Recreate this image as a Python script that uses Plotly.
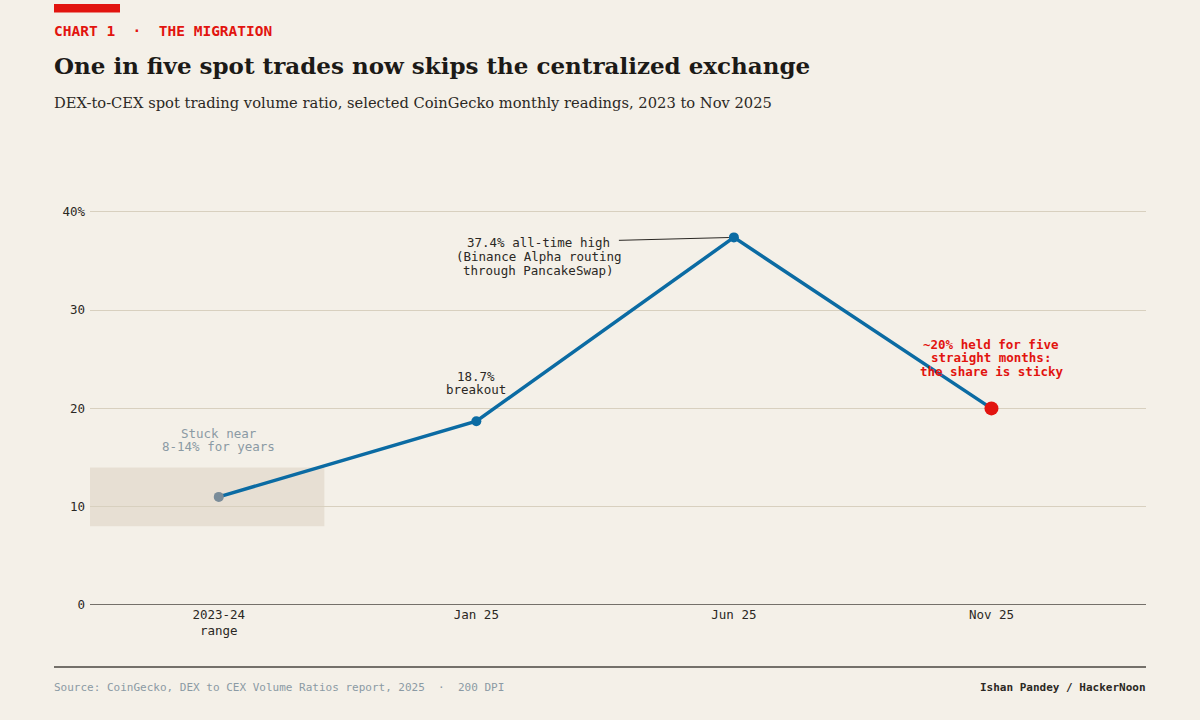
import plotly.graph_objects as go

categories = ["2023-24<br>range", "Jan 25", "Jun 25", "Nov 25"]
ratio_pct = [11.0, 18.7, 37.4, 20.0]
marker_colors = ["#7a8c99", "#0b6ba3", "#0b6ba3", "#e2140f"]
marker_sizes = [10, 10, 10, 14]
band_low, band_high = 8, 14
y_ticks = [0, 10, 20, 30, 40]
y_tick_labels = ["0", "10", "20", "30", "40%"]

BG = "#f4f0e8"
MONO = "DejaVu Sans Mono"
SERIF = "DejaVu Serif"
xs = list(range(len(categories)))

L, R, T, B = 90, 54, 202, 115
PW, PH = 1200 - L - R, 720 - T - B


def px_x(px):
    return (px - L) / PW


def px_y(py):
    return (720 - B - py) / PH


fig = go.Figure()
fig.add_shape(type="rect", xref="x", yref="y", x0=-0.5, x1=0.41, y0=band_low, y1=band_high,
              fillcolor="#e7dfd3", line_width=0, layer="below")
fig.add_trace(go.Scatter(x=xs, y=ratio_pct, mode="lines+markers",
                         line=dict(color="#0b6ba3", width=3.5),
                         marker=dict(color=marker_colors, size=marker_sizes, line_width=0, opacity=1),
                         opacity=1, cliponaxis=False, hoverinfo="skip"))

fig.update_layout(
    width=1200, height=720, paper_bgcolor=BG, plot_bgcolor=BG,
    margin=dict(l=L, r=R, t=T, b=B), showlegend=False,
    font=dict(family=MONO, color="#333333", size=12.5),
    xaxis=dict(range=[-0.5, 3.6], tickvals=xs, ticktext=categories, showgrid=False,
               zeroline=False, showline=False, ticks="", tickfont=dict(size=12.5, color="#2b2824")),
    yaxis=dict(range=[0, 41], tickvals=y_ticks, ticktext=y_tick_labels, showgrid=True,
               gridcolor="#d8d0bf", gridwidth=1, zeroline=False, showline=False, ticks="",
               ticklabelstandoff=4, tickfont=dict(size=12.5, color="#2b2824")),
)
# zero baseline
fig.add_shape(type="line", xref="paper", yref="y", x0=0, x1=1, y0=0, y1=0,
              line=dict(color="#4a4640", width=1.6))

# header
fig.add_shape(type="rect", xref="paper", yref="paper", x0=px_x(54), x1=px_x(120),
              y0=px_y(12.5), y1=px_y(4), fillcolor="#e2140f", line_width=0)


def header(text, py, size, family, color, x=54, anchor="left"):
    fig.add_annotation(xref="paper", yref="paper", x=px_x(x), y=px_y(py), xanchor=anchor,
                       yanchor="middle", text=text, showarrow=False, borderpad=0,
                       xshift=-1 if anchor == "left" else 1,
                       font=dict(family=family, size=size, color=color))


header("<b>CHART 1  ·  THE MIGRATION</b>", 31, 14.5, MONO, "#e2140f")
header("<b>One in five spot trades now skips the centralized exchange</b>", 66, 23, SERIF, "#1c1a17")
header("DEX-to-CEX spot trading volume ratio, selected CoinGecko monthly readings, 2023 to Nov 2025",
       102, 14.7, SERIF, "#2b2824")

# footer
fig.add_shape(type="line", xref="paper", yref="paper", x0=px_x(54), x1=1, y0=px_y(667), y1=px_y(667),
              line=dict(color="#4a4640", width=1.5))
header("Source: CoinGecko, DEX to CEX Volume Ratios report, 2025  ·  200 DPI", 687, 11, MONO, "#8b9aa4")
header("<b>Ishan Pandey / HackerNoon</b>", 687, 11, MONO, "#2b2824", x=1146, anchor="right")


# chart annotations, one line each for tight line spacing
def note(i, lines, shifts, color, bold=False, xshift=0):
    for line, s in zip(lines, shifts):
        txt = f"<b>{line}</b>" if bold else line
        fig.add_annotation(x=xs[i], y=ratio_pct[i], text=txt, showarrow=False, yshift=s, xshift=xshift,
                           font=dict(family=MONO, size=12.5, color=color))


note(0, ["Stuck near", "8-14% for years"], [63, 50], "#8b9aa4")
note(1, ["18.7%", "breakout"], [45, 32], "#2b2824")
fig.add_annotation(x=xs[2], y=ratio_pct[2], text="37.4% all-time high",
                   showarrow=True, arrowhead=0, arrowwidth=1, arrowcolor="#2b2824", ax=-195, ay=5,
                   standoff=5, borderpad=8, font=dict(family=MONO, size=12.5, color="#2b2824"))
note(2, ["(Binance Alpha routing", "through PancakeSwap)"], [-19, -33], "#2b2824", xshift=-195)
note(3, ["~20% held for five", "straight months:", "the share is sticky"], [64, 51, 37], "#e2140f", bold=True)

fig.write_html("out.html")
